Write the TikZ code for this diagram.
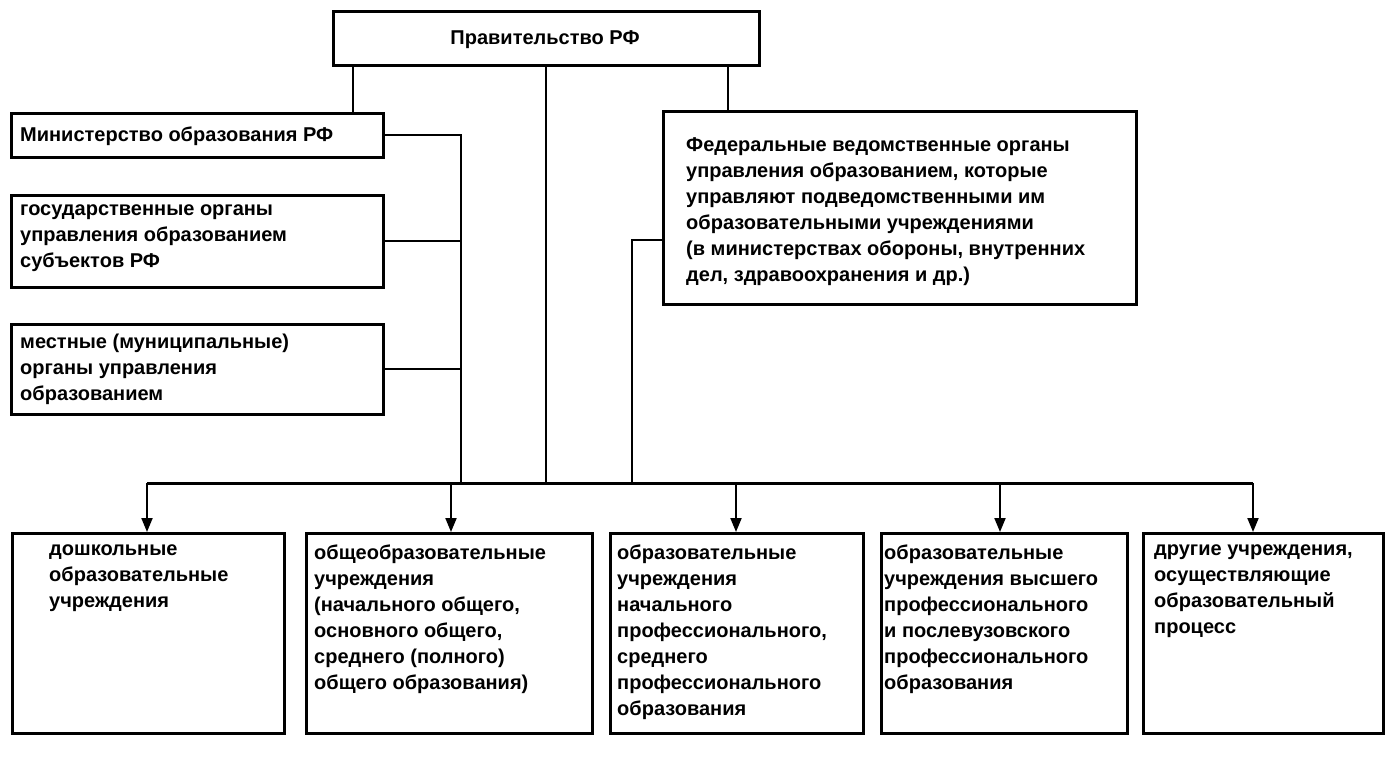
\documentclass[tikz,border=0pt]{standalone}
\usepackage{fontspec}
\setmainfont{Liberation Sans}
\usetikzlibrary{arrows.meta}
\begin{document}
\begin{tikzpicture}[x=1pt,y=-1pt,
  box/.style={draw,line width=2.6pt,anchor=north west,inner sep=0pt},
  txt/.style={anchor=north west,align=left,inner sep=0pt,font=\bfseries\fontsize{20}{26}\selectfont},
  ln/.style={line width=2pt},
  arr/.style={line width=2pt,-{Triangle[length=14pt,width=11pt]}}]
\useasboundingbox (0,0) rectangle (1386,768);
% boxes
\node[box,minimum width=426pt,minimum height=54pt] (gov) at (332,10) {};
\node[font=\bfseries\fontsize{20}{26}\selectfont] at (545,40) {Правительство РФ};
\node[box,minimum width=372pt,minimum height=44pt] (min) at (10,112) {};
\node[txt,anchor=west] at (20,136) {Министерство образования РФ};
\node[box,minimum width=372pt,minimum height=92pt] (gos) at (10,194) {};
\node[txt] at (20,205) {государственные органы\\управления образованием\\субъектов РФ};
\node[box,minimum width=372pt,minimum height=90pt] (loc) at (10,323) {};
\node[txt] at (20,334) {местные (муниципальные)\\органы управления\\образованием};
\node[box,minimum width=473pt,minimum height=193pt] (fed) at (662,110) {};
\node[txt] at (686,137) {Федеральные ведомственные органы\\управления образованием, которые\\управляют подведомственными им\\образовательными учреждениями\\(в министерствах обороны, внутренних\\дел, здравоохранения и др.)};
% bottom
\node[box,minimum width=272pt,minimum height=200pt] (b1) at (11,532) {};
\node[txt] at (49,545) {дошкольные\\образовательные\\учреждения};
\node[box,minimum width=286pt,minimum height=200pt] (b2) at (305,532) {};
\node[txt] at (314,545) {общеобразовательные\\учреждения\\(начального общего,\\основного общего,\\среднего (полного)\\общего образования)};
\node[box,minimum width=253pt,minimum height=200pt] (b3) at (609,532) {};
\node[txt] at (617,545) {образовательные\\учреждения\\начального\\профессионального,\\среднего\\профессионального\\образования};
\node[box,minimum width=246pt,minimum height=200pt] (b4) at (880,532) {};
\node[txt] at (884,545) {образовательные\\учреждения высшего\\профессионального\\и послевузовского\\профессионального\\образования};
\node[box,minimum width=240pt,minimum height=200pt] (b5) at (1142,532) {};
\node[txt] at (1154,545) {другие учреждения,\\осуществляющие\\образовательный\\процесс};
% coordinates
\coordinate (busL) at (147,483);
\coordinate (busR) at (1253,483);
\coordinate (jm) at (461,135);
\coordinate (jf) at (632,240);
% connectors
\draw[ln] (gov.south -| min.north west) ++(343,0) coordinate (g1) -- (g1 |- min.north);
\draw[ln] (gov.south) -- (gov.south |- busL);
\draw[ln] ([xshift=-33pt]gov.south east) -- ([xshift=-33pt]gov.south east |- fed.north);
\draw[ln] (jm -| min.east) -- (jm) -- (jm |- busL);
\draw[ln] (gos.east) -- (gos.east -| jm);
\draw[ln] (loc.east) -- (loc.east -| jm);
\draw[ln] (jf -| fed.west) -- (jf) -- (jf |- busL);
\draw[line width=3pt] (busL) -- (busR);
\draw[arr] (busL) -- (busL |- b1.north);
\draw[arr] (451,483) -- (451,532);
\draw[arr] (736,483) -- (736,532);
\draw[arr] (1000,483) -- (1000,532);
\draw[arr] (busR) -- (busR |- b5.north);
\end{tikzpicture}
\end{document}
